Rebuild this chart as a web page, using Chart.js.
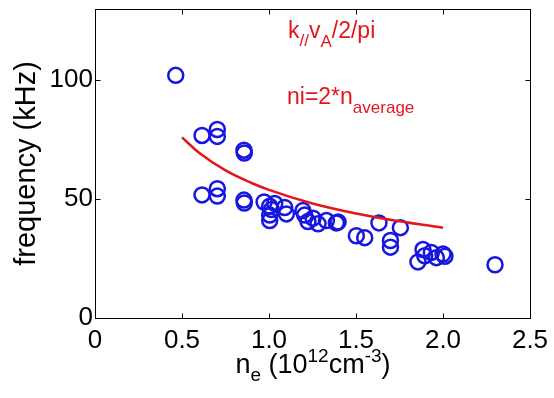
<!DOCTYPE html>
<html>
<head>
<meta charset="utf-8">
<script src="https://cdn.jsdelivr.net/npm/chart.js@4/dist/chart.umd.min.js"></script>
<style>
  html, body { margin: 0; padding: 0; background: #fff; }
  #wrap { width: 554px; height: 398px; }
</style>
</head>
<body>
<div id="wrap"><canvas id="myChart" width="554" height="398"></canvas></div>
<script>
// measured frequencies vs. electron density
const densityVals = [0.464, 0.615, 0.703, 0.703, 0.856, 0.858, 0.615, 0.703, 0.703, 0.856,
  0.858, 0.972, 1.004, 1.014, 1.004, 1.004, 1.033, 1.09, 1.10, 1.195,
  1.205, 1.224, 1.253, 1.282, 1.33, 1.387, 1.397, 1.502, 1.55, 1.632,
  1.698, 1.698, 1.755, 1.856, 1.885, 1.895, 1.933, 1.962, 2.0, 2.011, 2.299];
const freqVals = [102.1, 76.8, 79.3, 76.4, 70.6, 69.4, 51.8, 54.4, 51.3, 49.6,
  48.4, 48.8, 47.0, 45.6, 43.3, 41.0, 48.2, 46.5, 43.8, 45.2,
  43.3, 40.6, 42.0, 39.6, 41.0, 40.0, 40.4, 34.6, 33.8, 40.0,
  32.6, 29.8, 38.0, 23.6, 28.8, 26.2, 27.6, 25.4, 26.9, 26.0, 22.4];

// k_par * v_A / 2pi curve
const curveX = [0.5, 0.6, 0.75, 0.9, 1.0, 1.25, 1.5, 1.75, 2.0];
const curveY = [76.0, 69.4, 62.1, 56.8, 53.9, 48.2, 44.0, 40.7, 38.0];

const xTicks = [0, 0.5, 1, 1.5, 2, 2.5];
const yTicks = [0, 50, 100];
const xRange = [0, 2.5];
const yRange = [0, 130];

const FONT = "'Liberation Sans', Arial, Helvetica, sans-serif";
const RED = '#e3161e';
const BLUE = '#1616e0';

// draws a run of [text, size, dy] pieces left to right
function drawRuns(ctx, runs, x, y, color) {
  ctx.fillStyle = color;
  ctx.textBaseline = 'alphabetic';
  ctx.textAlign = 'left';
  for (const [t, size, dy] of runs) {
    ctx.font = size + 'px ' + FONT;
    ctx.fillText(t, x, y + dy);
    x += ctx.measureText(t).width;
  }
}

function runsWidth(ctx, runs) {
  let w = 0;
  for (const [t, size] of runs) {
    ctx.font = size + 'px ' + FONT;
    w += ctx.measureText(t).width;
  }
  return w;
}

// no automatic label padding, the plot box is set by layout.padding
function noPad(s) {
  s.paddingTop = s.paddingBottom = s.paddingLeft = s.paddingRight = 0;
}

const framePlugin = {
  id: 'frame',
  afterDraw(chart) {
    const { ctx, scales } = chart;
    const x0 = Math.round(scales.x.getPixelForValue(xRange[0])) + 0.5;
    const x1 = Math.round(scales.x.getPixelForValue(xRange[1])) + 0.5;
    const y0 = Math.round(scales.y.getPixelForValue(yRange[0])) + 0.5;
    const y1 = Math.round(scales.y.getPixelForValue(yRange[1])) + 0.5;
    ctx.save();
    ctx.strokeStyle = '#000';
    ctx.lineWidth = 1;
    ctx.strokeRect(x0, y1, x1 - x0, y0 - y1);

    // inward ticks on all four sides
    const len = 5;
    ctx.beginPath();
    for (const v of xTicks) {
      const px = Math.round(scales.x.getPixelForValue(v)) + 0.5;
      ctx.moveTo(px, y0); ctx.lineTo(px, y0 - len);
      ctx.moveTo(px, y1); ctx.lineTo(px, y1 + len);
    }
    for (const v of yTicks) {
      const py = Math.round(scales.y.getPixelForValue(v)) + 0.5;
      ctx.moveTo(x0, py); ctx.lineTo(x0 + len, py);
      ctx.moveTo(x1, py); ctx.lineTo(x1 - len, py);
    }
    ctx.stroke();

    // x axis title with subscript / superscripts
    const xRuns = [['n', 27, 0], ['e', 19, 8], [' (10', 27, 0], ['12', 19, -11],
      ['cm', 27, 0], ['-3', 19, -11], [')', 27, 0]];
    const cx = (x0 + x1) / 2;
    drawRuns(ctx, xRuns, cx - runsWidth(ctx, xRuns) / 2, 373, '#000');

    // annotations
    drawRuns(ctx, [['k', 23, 0], ['//', 17, 8], ['v', 23, 0], ['A', 17, 9], ['/2/pi', 23, 0]],
      288, 38, RED);
    drawRuns(ctx, [['ni=2*n', 23, 0], ['average', 17, 9]], 287, 104, RED);
    ctx.restore();
  }
};

const scatterPts = densityVals.map((x, i) => ({ x, y: freqVals[i] }));
const curvePts = curveX.map((x, i) => ({ x, y: curveY[i] }));

new Chart(document.getElementById('myChart'), {
  type: 'scatter',
  data: {
    datasets: [{
      data: scatterPts,
      pointStyle: 'circle',
      pointRadius: 7.5,
      pointHoverRadius: 7.5,
      borderWidth: 2.5,
      borderColor: BLUE,
      backgroundColor: 'rgba(0,0,0,0)',
      order: 2
    }, {
      type: 'line',
      data: curvePts,
      borderColor: RED,
      borderWidth: 2.5,
      pointRadius: 0,
      cubicInterpolationMode: 'monotone',
      fill: false,
      order: 1
    }]
  },
  options: {
    responsive: false,
    animation: false,
    events: [],
    layout: { autoPadding: false, padding: { top: 9, right: 24, left: 0, bottom: 0 } },
    plugins: { legend: { display: false }, tooltip: { enabled: false } },
    scales: {
      x: {
        type: 'linear',
        min: xRange[0], max: xRange[1],
        afterBuildTicks: s => { s.ticks = xTicks.map(v => ({ value: v })); },
        afterFit: s => { s.height = 80; noPad(s); },
        grid: { display: false, drawTicks: false },
        border: { display: false },
        ticks: {
          autoSkip: false,
          maxRotation: 0,
          padding: 7,
          color: '#000',
          font: { family: FONT, size: 26 }
        }
      },
      y: {
        type: 'linear',
        min: yRange[0], max: yRange[1],
        afterBuildTicks: s => { s.ticks = yTicks.map(v => ({ value: v })); },
        afterFit: s => { s.width = 95; noPad(s); },
        grid: { display: false, drawTicks: false },
        border: { display: false },
        ticks: {
          padding: 2,
          color: '#000',
          font: { family: FONT, size: 26 }
        },
        title: {
          display: true,
          text: 'frequency (kHz)',
          color: '#000',
          font: { family: FONT, size: 29 },
          padding: { top: 10, bottom: 0 }
        }
      }
    }
  },
  plugins: [framePlugin]
});
</script>
</body>
</html>
